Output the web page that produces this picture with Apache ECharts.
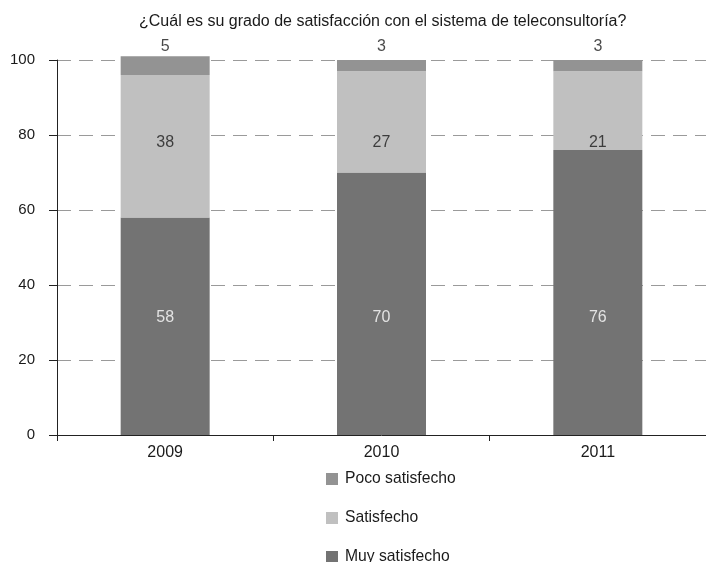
<!DOCTYPE html>
<html><head><meta charset="utf-8">
<script src="https://cdn.jsdelivr.net/npm/echarts@6/dist/echarts.min.js"></script>
<style>html,body{margin:0;padding:0;background:#fff}#c{width:706px;height:562px}</style>
</head><body><div id="c"></div>
<script>
const categories = ['2009', '2010', '2011'];
const muySatisfecho = [58, 70, 76];
const satisfecho = [38, 27, 21];
const pocoSatisfecho = [5, 3, 3];
const yTicks = [0, 20, 40, 60, 80, 100];
const seriesNames = ['Muy satisfecho', 'Satisfecho', 'Poco satisfecho'];

const font = 'Liberation Sans, Arial, sans-serif';
const txt = '#1a1a1a';
// value levels (axis units) where the data labels sit, one level per series
const labelLevels = [31.2, 78.0, 103.5];
const labelColors = ['#fff', txt, txt];
const valueSets = [muySatisfecho, satisfecho, pocoSatisfecho];

function labelSeries(i) {
  return {
    type: 'scatter', symbolSize: 0, silent: true, clip: false, z: 5,
    data: categories.map((c, k) => [c, labelLevels[i], valueSets[i][k]]),
    label: {
      show: true, position: 'inside', color: labelColors[i],
      fontFamily: font, fontSize: 16,
      formatter: p => String(p.value[2])
    },
    tooltip: { show: false }
  };
}

const legendOrder = ['Poco satisfecho', 'Satisfecho', 'Muy satisfecho'];
const chart = echarts.init(document.getElementById('c'));
chart.setOption({
  animation: false,
  title: {
    text: '¿Cuál es su grado de satisfacción con el sistema de teleconsultoría?',
    left: 139, top: 14, padding: 0,
    textStyle: { fontFamily: font, fontSize: 16, fontWeight: 'normal', color: txt }
  },
  legend: legendOrder.map((n, i) => ({
    orient: 'vertical', left: 326, top: 471 + i * 39, padding: 0,
    itemWidth: 12, itemHeight: 12, icon: 'rect',
    data: [n],
    textStyle: { fontFamily: font, fontSize: 15.7, color: txt, padding: [0, 0, 0, 2] }
  })),
  grid: { left: 57, right: -6, top: 60, bottom: 127 },
  xAxis: {
    type: 'category', data: categories,
    axisLine: { lineStyle: { color: '#222' } },
    axisTick: { show: true, length: 6, lineStyle: { color: '#222' } },
    axisLabel: { fontFamily: font, fontSize: 16, color: txt, margin: 10 }
  },
  yAxis: {
    type: 'value', min: yTicks[0], max: yTicks[yTicks.length - 1], interval: 20,
    axisLine: { show: true, lineStyle: { color: '#222' } },
    axisTick: { show: true, length: 8, lineStyle: { color: '#222' } },
    axisLabel: { fontFamily: font, fontSize: 15, color: txt, margin: 22 },
    splitLine: { lineStyle: { type: [14, 8], color: '#9a9a9a' } }
  },
  series: [
    {
      name: seriesNames[0], type: 'bar', stack: 't', data: muySatisfecho, barWidth: 89, clip: false,
      itemStyle: { color: '#737373' }
    },
    {
      name: seriesNames[1], type: 'bar', stack: 't', data: satisfecho, clip: false,
      itemStyle: { color: '#c0c0c0' }
    },
    {
      name: seriesNames[2], type: 'bar', stack: 't', data: pocoSatisfecho, clip: false,
      itemStyle: { color: '#939393' }
    },
    labelSeries(0), labelSeries(1), labelSeries(2)
  ]
});
</script></body></html>
